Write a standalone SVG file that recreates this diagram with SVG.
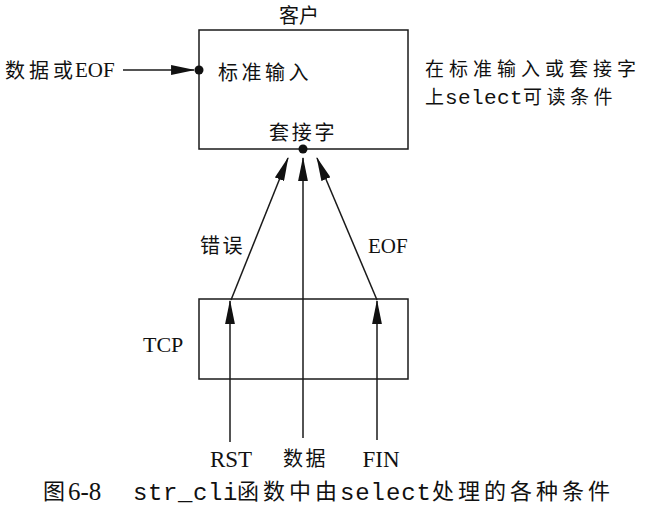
<svg xmlns="http://www.w3.org/2000/svg" width="647" height="509" viewBox="0 0 647 509">
<style>
.bg{fill:#fff}
.box{fill:none;stroke:#1a1a1a;stroke-width:1.5}
.ln{fill:none;stroke:#1a1a1a;stroke-width:1.5;marker-end:url(#ah)}
.dot{fill:#111}
.cjk{font-family:"Noto Sans CJK SC","Noto Sans",sans-serif;fill:#111;font-size:20px;letter-spacing:3px}
.ser{font-family:"Liberation Serif",serif;fill:#111;font-size:22px}
.mono{font-family:"Liberation Mono",monospace;fill:#111}
</style>
<defs>
<marker id="ah" markerUnits="userSpaceOnUse" markerWidth="24" markerHeight="10" viewBox="0 0 22 9" refX="21" refY="4.5" orient="auto">
<path d="M0,0 L22,4.5 L0,9 z" fill="#111"/>
</marker>
</defs>
<rect class="bg" x="0" y="0" width="647" height="509"/>

<g id="client">
<rect class="box" x="199" y="30" width="209" height="119"/>
<text class="cjk" x="279" y="23" style="letter-spacing:0">客户</text>
<text class="cjk" x="218" y="80" style="letter-spacing:3.5px">标准输入</text>
<text class="cjk" x="269" y="140" style="letter-spacing:2.7px">套接字</text>
<circle class="dot" cx="199" cy="70" r="4.5"/>
<circle class="dot" cx="303" cy="149" r="4.5"/>
</g>

<g id="tcp">
<rect class="box" x="199" y="299" width="209" height="80"/>
<text class="ser" x="143" y="352">TCP</text>
</g>

<g id="input-label">
<text class="cjk" x="5" y="78" style="letter-spacing:4px">数据或</text>
<text class="ser" x="75" y="77" style="font-size:21px">EOF</text>
</g>

<g id="note">
<text class="cjk" x="425" y="76" style="font-size:19px;letter-spacing:5px">在标准输入或套接字</text>
<text x="425" y="104"><tspan class="cjk" style="font-size:19px;letter-spacing:0">上</tspan><tspan class="mono" x="445" style="font-size:21px;letter-spacing:0.4px">select</tspan><tspan class="cjk" x="523" style="font-size:19px;letter-spacing:4.5px">可读条件</tspan></text>
</g>

<g id="connectors">
<line class="ln" x1="123" y1="70" x2="194" y2="70"/>
<line class="ln" x1="231" y1="300" x2="288" y2="158"/>
<line class="ln" x1="303" y1="438" x2="303" y2="158"/>
<line class="ln" x1="377" y1="300" x2="317" y2="158"/>
<line class="ln" x1="230" y1="442" x2="230" y2="301"/>
<line class="ln" x1="377" y1="440" x2="377" y2="301"/>
</g>

<g id="edge-labels">
<text class="cjk" x="200" y="253" style="letter-spacing:2.5px">错误</text>
<text class="ser" x="368" y="253" style="font-size:21px">EOF</text>
<text class="ser" x="231" y="467" text-anchor="middle" style="font-size:23px">RST</text>
<text class="cjk" x="283" y="466" style="letter-spacing:2.5px">数据</text>
<text class="ser" x="381" y="467" text-anchor="middle" style="font-size:23px">FIN</text>
</g>

<g id="caption">
<text class="cjk" x="43" y="499" style="font-size:22px;letter-spacing:0">图</text>
<text class="ser" x="68" y="500" style="font-size:25px">6-8</text>
<text class="mono" x="133" y="500" style="font-size:24px;letter-spacing:0.6px">str_cli</text>
<text class="cjk" x="237" y="499" style="font-size:22px;letter-spacing:4px">函数中由</text>
<text class="mono" x="340" y="500" style="font-size:24px;letter-spacing:0.9px">select</text>
<text class="cjk" x="432" y="499" style="font-size:22px;letter-spacing:4px">处理的各种条件</text>
</g>
</svg>
